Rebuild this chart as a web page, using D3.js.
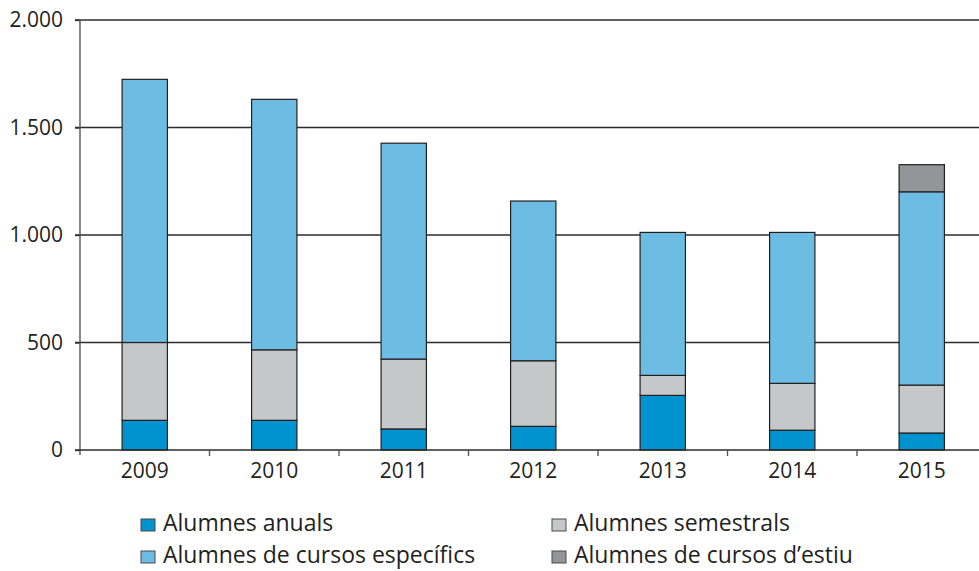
<!DOCTYPE html>
<html>
<head>
<meta charset="utf-8">
<script src="https://cdn.jsdelivr.net/npm/d3@7"></script>
<style>
  body { margin: 0; background: #fff; }
  text { font-family: "Open Sans", sans-serif; fill: #231f20; }
</style>
</head>
<body>
<div id="chart"></div>
<script>
// years on the x axis
var years = ["2009", "2010", "2011", "2012", "2013", "2014", "2015"];

// stacked segments, bottom to top
var anuals      = [138, 138,  98, 110, 254,  92,  79];
var semestrals  = [362, 328, 325, 305,  93, 218, 223];
var especifics  = [1224, 1165, 1004, 743, 665, 702, 899];
var estiu       = [0, 0, 0, 0, 0, 0, 126];

var seriesNames = ["Alumnes anuals", "Alumnes semestrals", "Alumnes de cursos específics", "Alumnes de cursos d’estiu"];
var seriesColors = ["#0093d0", "#c6c7c9", "#6cbce4", "#939598"];
var yTicks = [0, 500, 1000, 1500, 2000];

var width = 979, height = 571;

var rows = years.map(function (y, i) {
    return { year: y, s0: anuals[i], s1: semestrals[i], s2: especifics[i], s3: estiu[i] };
});
var keys = ["s0", "s1", "s2", "s3"];
var stacked = d3.stack().keys(keys)(rows);

var svg = d3.select("#chart").append("svg")
    .attr("width", width)
    .attr("height", height);

var x = d3.scaleBand()
    .domain(years)
    .range([80, 80 + 7 * 129.5])
    .paddingInner(0.65)
    .paddingOuter(0.325);

var y = d3.scaleLinear()
    .domain([0, 2000])
    .range([450, 20]);

var fmt = d3.formatLocale({ decimal: ",", thousands: ".", grouping: [3], currency: ["", "€"] }).format(",");

// gridlines
svg.append("g")
    .selectAll("line")
    .data(yTicks.filter(function (d) { return d > 0; }))
    .join("line")
    .attr("x1", 75).attr("x2", width)
    .attr("y1", function (d) { return y(d); })
    .attr("y2", function (d) { return y(d); })
    .attr("stroke", "#2b2b2b")
    .attr("stroke-width", 1.3);

// y axis
var yAxis = svg.append("g")
    .attr("transform", "translate(80,0)")
    .call(d3.axisLeft(y).tickValues(yTicks).tickFormat(fmt).tickSize(5).tickPadding(12));
yAxis.select(".domain").remove();
yAxis.selectAll("line").attr("stroke", "#2b2b2b").attr("stroke-width", 1.3);
yAxis.selectAll("text").style("font-size", "21px").attr("fill", "#231f20");

svg.append("line")
    .attr("x1", 80).attr("x2", 80)
    .attr("y1", y(2000)).attr("y2", y(0) + 5)
    .attr("stroke", "#555").attr("stroke-width", 1.4);

// bars
svg.append("g")
    .selectAll("g")
    .data(stacked)
    .join("g")
    .attr("fill", function (d, i) { return seriesColors[i]; })
    .selectAll("rect")
    .data(function (d) { return d.filter(function (s) { return s[1] > s[0]; }); })
    .join("rect")
    .attr("x", function (d) { return x(d.data.year); })
    .attr("width", x.bandwidth())
    .attr("y", function (d) { return y(d[1]); })
    .attr("height", function (d) { return y(d[0]) - y(d[1]); })
    .attr("stroke", "#231f20")
    .attr("stroke-width", 1.2);

// x axis
var step = x.step();
svg.append("line")
    .attr("x1", 75).attr("x2", width)
    .attr("y1", y(0)).attr("y2", y(0))
    .attr("stroke", "#2b2b2b").attr("stroke-width", 1.4);

svg.append("g")
    .selectAll("line")
    .data(years.slice(1))
    .join("line")
    .attr("x1", function (d) { return x(d) + x.bandwidth() / 2 - step / 2; })
    .attr("x2", function (d) { return x(d) + x.bandwidth() / 2 - step / 2; })
    .attr("y1", y(0)).attr("y2", y(0) + 6)
    .attr("stroke", "#555").attr("stroke-width", 1.4);

svg.append("g")
    .selectAll("text")
    .data(years)
    .join("text")
    .attr("x", function (d) { return x(d) + x.bandwidth() / 2; })
    .attr("y", 478)
    .attr("text-anchor", "middle")
    .style("font-size", "21px")
    .text(function (d) { return d; });

// legend
var legendPos = [[141, 531], [552, 531], [141, 563], [552, 563]];
var legend = svg.append("g")
    .selectAll("g")
    .data(seriesNames)
    .join("g")
    .attr("transform", function (d, i) { return "translate(" + legendPos[i][0] + "," + legendPos[i][1] + ")"; });

legend.append("rect")
    .attr("x", 0).attr("y", -12)
    .attr("width", 14).attr("height", 12)
    .attr("fill", function (d, i) { return seriesColors[i]; })
    .attr("stroke", "#4a4a4a")
    .attr("stroke-width", 1);

legend.append("text")
    .attr("x", 22)
    .attr("y", 0)
    .style("font-size", "23px")
    .text(function (d) { return d; });
</script>
</body>
</html>
